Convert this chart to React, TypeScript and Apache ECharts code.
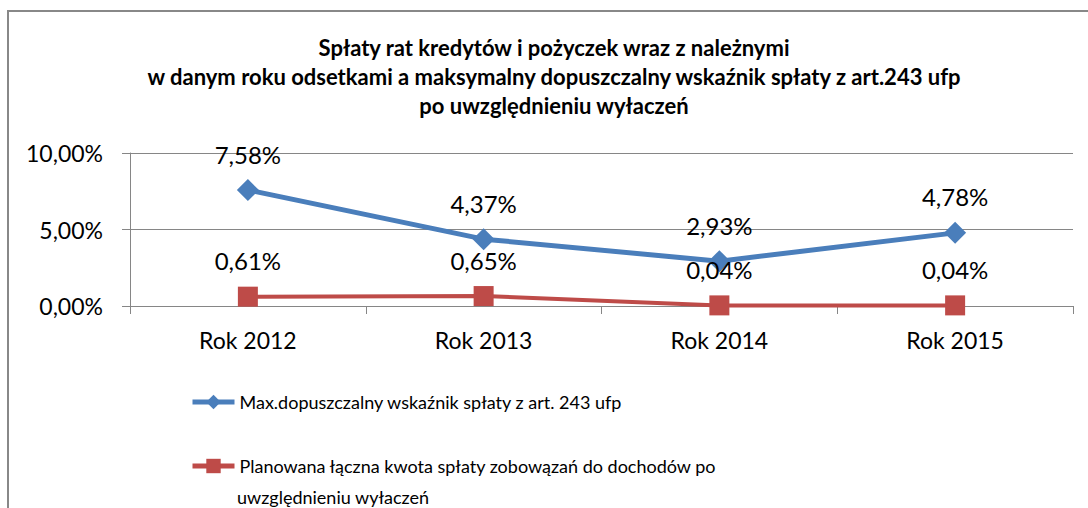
import React, { useEffect, useRef } from "react";
import * as echarts from "echarts";

const categories = ["Rok 2012", "Rok 2013", "Rok 2014", "Rok 2015"];
const maxRatio = [7.58, 4.37, 2.93, 4.78];
const plannedRatio = [0.61, 0.65, 0.04, 0.04];
const seriesNames = [
  "Max.dopuszczalny wskaźnik spłaty z art. 243 ufp",
  "Planowana łączna kwota spłaty zobowązań do dochodów po uwzględnieniu wyłaczeń",
];
const titleLines = [
  "Spłaty rat kredytów i pożyczek wraz z należnymi",
  "w danym roku odsetkami a maksymalny dopuszczalny wskaźnik spłaty z art.243 ufp",
  "po uwzględnieniu wyłaczeń",
];

const FONT = "Lato, 'Noto Sans', sans-serif";
const BLUE = "#4a7ebb";
const RED = "#be4b48";
const fmt = (v: number) => v.toFixed(2).replace(".", ",") + "%";

export default function App() {
  const ref = useRef<HTMLDivElement>(null);
  useEffect(() => {
    if (!ref.current) return;
    const chart = echarts.init(ref.current, null, { renderer: "svg" });
    chart.setOption({
      animation: false,
      backgroundColor: "#ffffff",
      textStyle: { fontFamily: FONT },
      title: {
        text: titleLines.join("\n"),
        left: 554,
        top: 33,
        padding: 0,
        textAlign: "center",
        textStyle: {
          fontFamily: FONT,
          fontWeight: "bold",
          fontSize: 22,
          lineHeight: 29,
          color: "#000",
        },
      },
      graphic: [
        {
          type: "rect",
          shape: { x: 8, y: 11, width: 1200, height: 600 },
          style: { fill: "none", stroke: "#888888", lineWidth: 2 },
          silent: true,
        },
        {
          type: "text",
          x: 237,
          y: 497,
          style: {
            text: "uwzględnieniu wyłaczeń",
            font: `18px ${FONT}`,
            fill: "#000",
            verticalAlign: "middle",
          },
        },
      ],
      legend: [
        {
          orient: "vertical",
          left: 190,
          top: 393,
          padding: 0,
          itemWidth: 42,
          itemHeight: 18,
          data: [seriesNames[0]],
          lineStyle: { width: 5 },
          textStyle: { fontFamily: FONT, fontSize: 18, color: "#000" },
        },
        {
          orient: "vertical",
          left: 190,
          top: 457,
          padding: 0,
          itemWidth: 42,
          itemHeight: 18,
          data: [seriesNames[1]],
          lineStyle: { width: 5 },
          formatter: () => "Planowana łączna kwota spłaty zobowązań do dochodów po",
          textStyle: { fontFamily: FONT, fontSize: 18, color: "#000" },
        },
      ],
      grid: { left: 130, right: 15, top: 153, bottom: 202, containLabel: false },
      xAxis: {
        type: "category",
        data: categories,
        boundaryGap: true,
        axisLine: { show: true, lineStyle: { color: "#868686", width: 1 } },
        axisTick: { show: true, length: 8, lineStyle: { color: "#868686" } },
        axisLabel: { margin: 22, fontSize: 23, color: "#000", fontFamily: FONT },
      },
      yAxis: {
        type: "value",
        min: 0,
        max: 10,
        interval: 5,
        axisLine: { show: true, lineStyle: { color: "#868686", width: 1 } },
        axisTick: { show: true, length: 8, lineStyle: { color: "#868686" } },
        splitLine: { show: true, lineStyle: { color: "#868686", width: 1 } },
        axisLabel: {
          margin: 27,
          fontSize: 23,
          color: "#000",
          fontFamily: FONT,
          formatter: (v: number) => fmt(v),
        },
      },
      series: [
        {
          name: seriesNames[0],
          type: "line",
          data: maxRatio,
          symbol: "diamond",
          symbolSize: 22,
          lineStyle: { color: BLUE, width: 5 },
          itemStyle: { color: BLUE },
          label: {
            show: true,
            position: "top",
            distance: 13,
            fontSize: 24,
            color: "#000",
            fontFamily: FONT,
            formatter: (p: any) => fmt(p.value),
          },
        },
        {
          name: seriesNames[1],
          type: "line",
          data: plannedRatio,
          symbol: "rect",
          symbolSize: 20,
          lineStyle: { color: RED, width: 4 },
          itemStyle: { color: RED },
          label: {
            show: true,
            position: "top",
            distance: 14,
            fontSize: 24,
            color: "#000",
            fontFamily: FONT,
            formatter: (p: any) => fmt(p.value),
          },
        },
      ],
    });
    return () => chart.dispose();
  }, []);
  return (
    <div
      ref={ref}
      style={{ position: "fixed", left: 0, top: 0, width: 1088, height: 508 }}
    />
  );
}
